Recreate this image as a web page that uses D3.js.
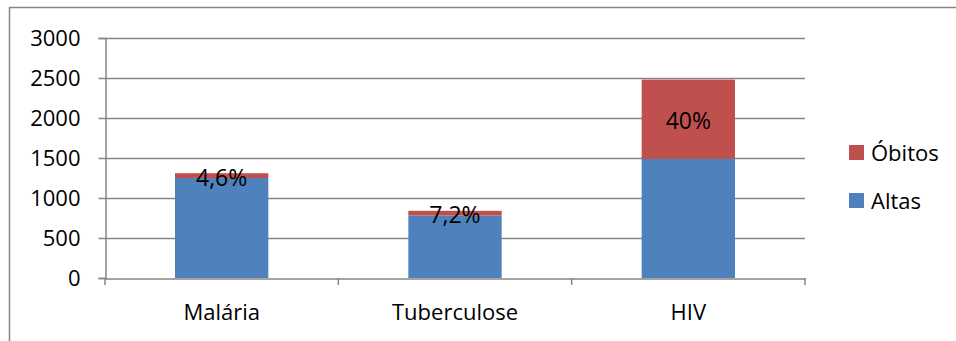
<!DOCTYPE html>
<html><head><meta charset="utf-8">
<script src="https://cdn.jsdelivr.net/npm/d3@7"></script>
<style>body{margin:0;background:#fff;} svg{display:block;}</style>
</head><body>
<svg id="c" width="956" height="341"></svg>
<script>
const categories = ["Malária", "Tuberculose", "HIV"];
const altas = [1250, 780, 1490];
const obitos = [60, 60, 990];
const pctLabels = ["4,6%", "7,2%", "40%"];
const yTicks = [0, 500, 1000, 1500, 2000, 2500, 3000];
const seriesNames = ["Óbitos", "Altas"];
const colors = {"Altas": "#4f81bd", "Óbitos": "#c0504d"};

const svg = d3.select("#c");
const font = "'Open Sans', 'Liberation Sans', sans-serif";
const gray = "#868686";
const fs = 22;

// outer border
svg.append("path").attr("d", "M9.5,341 L9.5,7.5 L956,7.5")
  .attr("fill", "none").attr("stroke", gray).attr("stroke-width", 1.5);

const L = 105, R = 805, T = 38, B = 278;
const x = d3.scaleBand().domain(categories).range([L, R]).padding(0);
const y = d3.scaleLinear().domain([0, 3000]).range([B, T]);

// gridlines
svg.append("g").selectAll("line").data(yTicks.filter(d => d > 0)).join("line")
  .attr("x1", L).attr("x2", R).attr("y1", d => Math.round(y(d)) + 0.5).attr("y2", d => Math.round(y(d)) + 0.5)
  .attr("stroke", gray).attr("stroke-width", 1.5);

const data = categories.map((c, i) => ({c, altas: altas[i], obitos: obitos[i], lbl: pctLabels[i]}));
const bw = x.bandwidth() * 0.4;
const bx = d => x(d.c) + (x.bandwidth() - bw) / 2;

svg.append("g").selectAll("rect").data(data).join("rect")
  .attr("x", bx).attr("width", bw)
  .attr("y", d => y(d.altas)).attr("height", d => y(0) - y(d.altas))
  .attr("fill", colors["Altas"]);
svg.append("g").selectAll("rect").data(data).join("rect")
  .attr("x", bx).attr("width", bw)
  .attr("y", d => y(d.altas + d.obitos)).attr("height", d => y(d.altas) - y(d.altas + d.obitos))
  .attr("fill", colors["Óbitos"]);

// labels
svg.append("g").selectAll("text").data(data).join("text")
  .attr("x", d => x(d.c) + x.bandwidth() / 2)
  .attr("y", d => (y(d.altas) + y(d.altas + d.obitos)) / 2 + 2)
  .attr("dy", "0.35em").attr("text-anchor", "middle")
  .attr("font-family", font).attr("font-size", 23).attr("fill", "#000")
  .text(d => d.lbl);

// y axis
const ya = svg.append("g").attr("transform", `translate(${L + 0.5},0)`)
  .call(d3.axisLeft(y).tickValues(yTicks).tickSize(7).tickPadding(18).tickFormat(d3.format("d")));
ya.select(".domain").attr("stroke", gray).attr("stroke-width", 1.5);
ya.selectAll(".tick line").attr("stroke", gray).attr("stroke-width", 1.5);
ya.selectAll("text").attr("font-family", font).attr("font-size", fs).attr("fill", "#000");

// x axis
const xa = svg.append("g").attr("transform", `translate(0,${B + 0.5})`)
  .call(d3.axisBottom(x).tickSize(0).tickPadding(26).tickSizeOuter(0));
xa.select(".domain").attr("stroke", gray).attr("stroke-width", 1.5);
xa.selectAll("text").attr("font-family", font).attr("font-size", fs).attr("fill", "#000");
const bounds = [L, ...categories.map(c => x(c) + x.bandwidth())];
svg.append("g").selectAll("line").data(bounds).join("line")
  .attr("x1", d => d).attr("x2", d => d).attr("y1", B).attr("y2", B + 7)
  .attr("stroke", gray).attr("stroke-width", 1.5);

// legend
const lg = svg.append("g").selectAll("g").data(seriesNames).join("g")
  .attr("transform", (d, i) => `translate(849,${145 + i * 48})`);
lg.append("rect").attr("width", 15).attr("height", 15).attr("fill", d => colors[d]);
lg.append("text").attr("x", 22).attr("y", 8).attr("dy", "0.35em")
  .attr("font-family", font).attr("font-size", fs).attr("fill", "#000").text(d => d);
</script>
</body></html>
